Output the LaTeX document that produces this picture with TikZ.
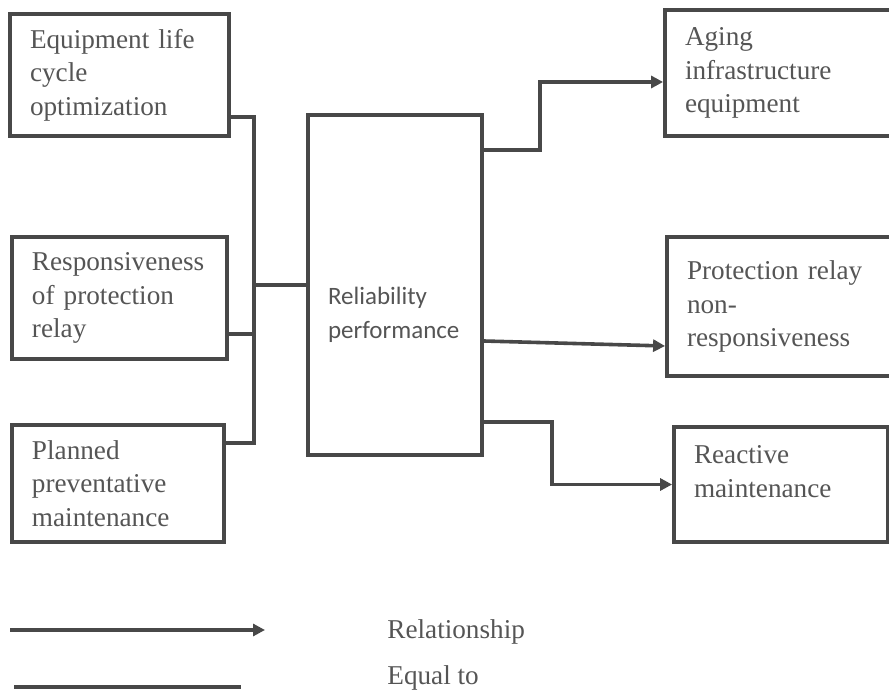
\documentclass[tikz,border=0pt]{standalone}
\usepackage{fontspec}
\setmainfont{Liberation Serif}
\newfontfamily\calibrifont{Carlito}
\definecolor{boxgray}{RGB}{72,72,72}
\definecolor{textgray}{RGB}{85,85,85}
\usetikzlibrary{arrows.meta,positioning}

\begin{document}
\begin{tikzpicture}[
    x=0.5pt, y=-0.5pt,
    >={Triangle[length=6pt,width=6pt]},
    % Define styles
    factor/.style={rectangle, draw=boxgray, line width=1.9pt, fill=white, inner xsep=10pt, align=left, text=textgray, font=\fontsize{13.6}{16.8}\selectfont},
    core/.style={rectangle, draw=boxgray, line width=1.9pt, fill=white, inner xsep=10pt, align=left, text=textgray, font=\calibrifont\fontsize{12.5}{17}\selectfont},
    link/.style={draw=boxgray, line width=1.8pt},
    flow/.style={->, draw=boxgray, line width=1.8pt},
    legendtext/.style={anchor=west, inner sep=0pt, text=textgray, font=\fontsize{13.6}{16.8}\selectfont}
]
\useasboundingbox (0,0) rectangle (889,695);

% Left boxes
\node[factor, minimum width=109.5pt, minimum height=61pt, text width=89.5pt] (equip) at (119.5,75) {Equipment life\\cycle\\optimization};
\node[factor, minimum width=107.5pt, minimum height=61pt, text width=87.5pt] (resp) at (119.5,298) {Responsiveness\\of protection\\relay};
\node[factor, minimum width=106pt, minimum height=58.5pt, text width=86pt] (plan) at (118,483.5) {Planned\\preventative\\maintenance};

% Central box
\node[core, minimum width=87pt, minimum height=170pt, text width=67pt, text height=39pt] (core) at (395,285) {Reliability\\performance};

% Right boxes
\node[factor, minimum width=117.5pt, minimum height=63pt, text width=97.5pt] (aging) at (782.5,73) {Aging\\infrastructure\\equipment};
\node[factor, minimum width=116.5pt, minimum height=69.5pt, text width=96.5pt] (relay) at (783.5,306.5) {Protection relay\\non-\\responsiveness};
\node[factor, minimum width=107pt, minimum height=57.5pt, text width=87pt, text depth=30pt] (react) at (781,484.5) {Reactive\\maintenance};

% Left bus
\coordinate (busT) at (254,117);
\coordinate (busB) at (254,443);
\draw[link] ([yshift=-21pt]equip.east) -- (busT) -- (busB) -- ([yshift=20.25pt]plan.east);
\draw[link] ([yshift=-18pt]resp.east) -- +(27,0);
\draw[link] (core.west -| busT) -- (core.west);

% Outcomes
\draw[flow] ([yshift=67.5pt]core.east) -- +(56,0) |- ([yshift=-4.5pt]aging.west);
\draw[flow] ([yshift=-28pt]core.east) -- ([yshift=-19.75pt]relay.west);
\draw[flow] ([yshift=-68.5pt]core.east) -- +(68,0) |- (react.west);

% Legend
\coordinate (relA) at (10,630);
\coordinate (relB) at (265,630);
\coordinate (eqA) at (14,687);
\coordinate (eqB) at (241,687);
\draw[flow] (relA) -- (relB);
\draw[link, line width=2.2pt] (eqA) -- (eqB);
\node[legendtext] (rel) at (387,632) {Relationship};
\node[legendtext] (eq) at (387,678) {Equal to};

\end{tikzpicture}
\end{document}
